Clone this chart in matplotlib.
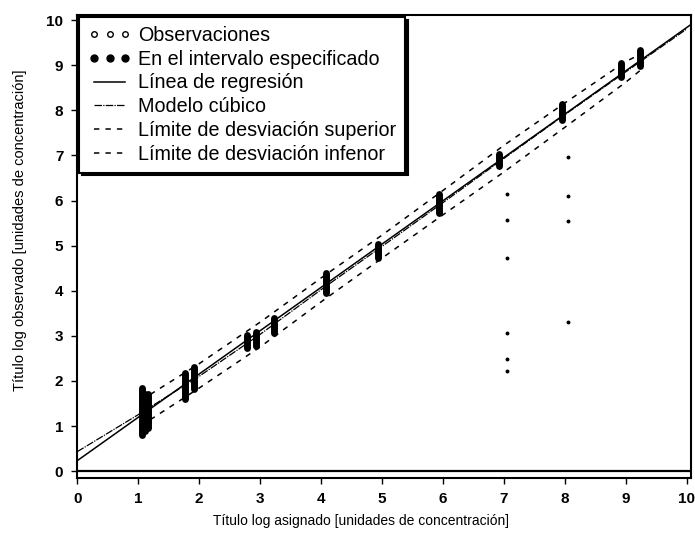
import matplotlib
matplotlib.use("Agg")
import matplotlib.pyplot as plt
from matplotlib.lines import Line2D

plt.rcParams['font.family'] = ['Liberation Sans', 'DejaVu Sans']

# grupos de observaciones dentro del intervalo (x, y min, y max)
grp_x = [1.06, 1.11, 1.16, 1.77, 1.92, 2.79, 2.93, 3.23, 4.08, 4.93, 5.93, 6.93, 7.95, 8.93, 9.24]
grp_lo = [0.80, 0.88, 0.96, 1.60, 1.82, 2.74, 2.77, 3.07, 3.94, 4.73, 5.73, 6.76, 7.78, 8.73, 8.98]
grp_hi = [1.85, 1.70, 1.72, 2.18, 2.30, 3.02, 3.09, 3.40, 4.40, 5.04, 6.14, 7.04, 8.15, 9.04, 9.33]

# observaciones sueltas
obs_x = [7.05, 7.05, 7.05, 7.05, 7.05, 7.05, 8.05, 8.05, 8.05, 8.05]
obs_y = [6.15, 5.56, 4.72, 3.07, 2.49, 2.23, 6.96, 6.11, 5.55, 3.31]

# linea de regresion
reg_x = [0.0, 10.07]
reg_y = [0.23, 9.90]

# modelo cubico
cub_x = [0, 1, 2, 3, 4, 5, 6, 7, 8, 9, 10]
cub_y = [0.43, 1.25, 2.10, 3.03, 4.02, 4.98, 5.95, 6.93, 7.90, 8.85, 9.80]

# limites de desviacion
lim_x = [1.2, 2, 3, 4, 5, 6, 7, 8, 9, 9.3]
lim_sup = [1.70, 2.38, 3.30, 4.28, 5.23, 6.22, 7.22, 8.16, 9.08, 9.28]
lim_inf = [1.14, 1.84, 2.75, 3.75, 4.72, 5.68, 6.63, 7.62, 8.62, 8.95]

fig = plt.figure(figsize=(6.95, 5.4), dpi=100)
ax = fig.add_axes([0.111, 0.115, 0.883, 0.857])

ax.plot(reg_x, reg_y, color='black', lw=1.1)
ax.plot(cub_x, cub_y, color='black', lw=0.9, ls=(0, (6, 1, 1, 1)))
ax.plot(lim_x, lim_sup, color='black', lw=1.1, ls=(0, (3.5, 4)))
ax.plot(lim_x, lim_inf, color='black', lw=1.1, ls=(0, (3.5, 4)))

ax.vlines(grp_x, grp_lo, grp_hi, color='black', lw=5, capstyle='round')
ax.plot(obs_x, obs_y, ls='none', marker='o', ms=1.8, color='black')

ax.axhline(0, color='black', lw=1.6)

ax.set_xlim(0, 10.07)
ax.set_ylim(-0.15, 10.11)
ax.set_xticks(range(11))
ax.set_yticks(range(11))
for s in ax.spines.values():
    s.set_linewidth(1.5)
ax.tick_params(direction='out', length=4, width=1, labelsize=11, pad=6)
for t in ax.get_xticklabels() + ax.get_yticklabels():
    t.set_fontweight('bold')

ax.set_xlabel('Título log asignado [unidades de concentración]', fontsize=10)
ax.set_ylabel('Título log observado [unidades de concentración]', fontsize=10.5)
ax.xaxis.set_label_coords(0.4625, -0.078)
ax.yaxis.set_label_coords(-0.081, 0.535)

handles = [
    Line2D([], [], ls='none', marker='o', ms=4, mfc='white', mec='black', mew=1),
    Line2D([], [], ls='none', marker='o', ms=5, color='black'),
    Line2D([], [], color='black', lw=1.1),
    Line2D([], [], color='black', lw=0.9, ls=(0, (6, 1, 1, 1))),
    Line2D([], [], color='black', lw=1.1, ls=(0, (3.5, 4))),
    Line2D([], [], color='black', lw=1.1, ls=(0, (3.5, 4))),
]
labels = ['Observaciones', 'En el intervalo especificado', 'Línea de regresión',
          'Modelo cúbico', 'Límite de desviación superior', 'Límite de desviación infenor']
leg = ax.legend(handles, labels, loc='upper left', bbox_to_anchor=(0.0, 1.0),
                borderaxespad=0.1, fontsize=14.2, numpoints=3, handlelength=2.2,
                handletextpad=0.35, labelspacing=0.24, borderpad=0.45,
                fancybox=False, framealpha=1,
                shadow={'color': 'black', 'alpha': 1})
leg.get_frame().set_edgecolor('black')
leg.get_frame().set_linewidth(1.5)

fig.savefig('out.png', dpi=100)
